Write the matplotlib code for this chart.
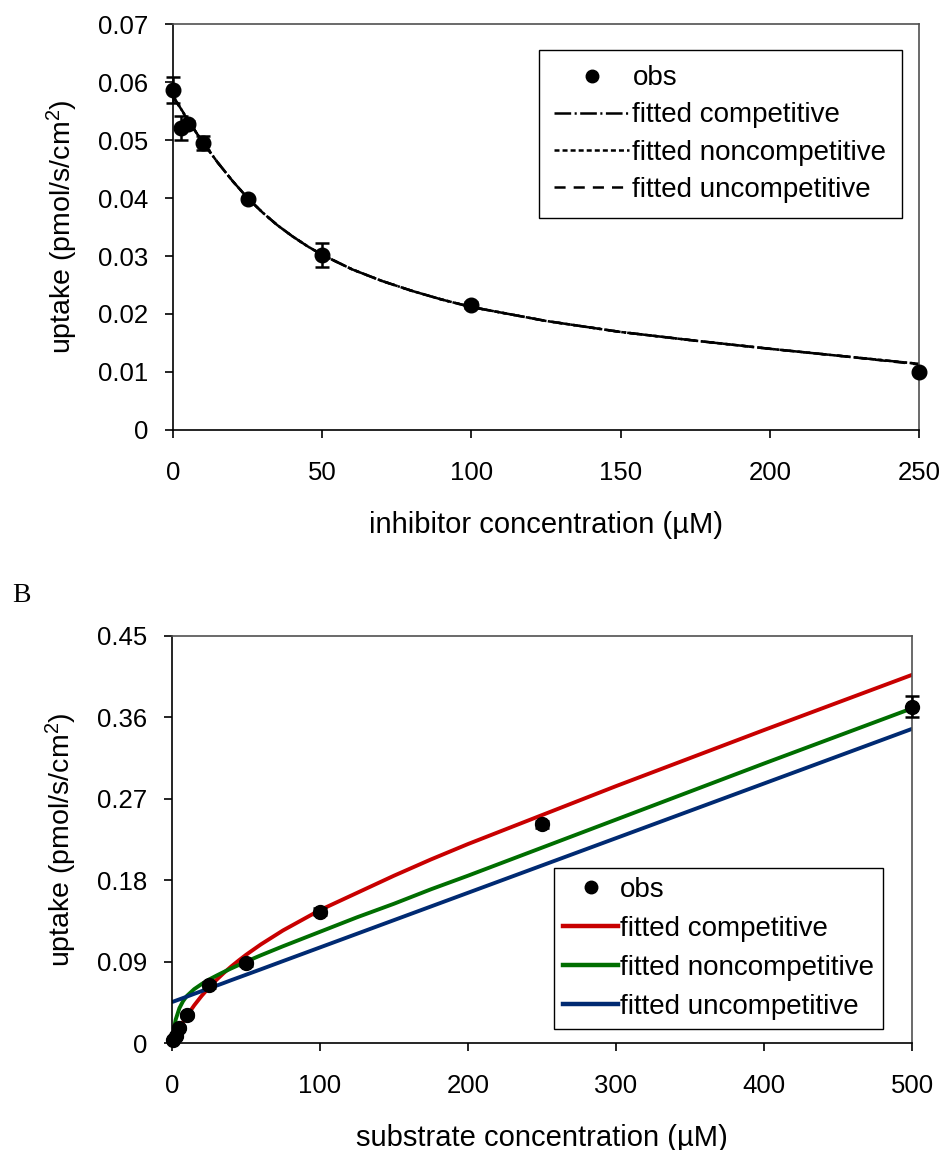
import matplotlib
matplotlib.use('Agg')
import matplotlib.pyplot as plt
from matplotlib.lines import Line2D

plt.rcParams['font.family'] = ['Liberation Sans', 'DejaVu Sans']
plt.rcParams['mathtext.default'] = 'regular'
plt.rcParams['lines.scale_dashes'] = False

# panel A: inhibition
inhib_conc = [0, 2.5, 5, 10, 25, 50, 100, 250]
inhib_uptake = [0.0586, 0.0521, 0.0528, 0.0495, 0.0398, 0.0302, 0.0216, 0.0100]
inhib_err = [0.0022, 0.0021, 0.0005, 0.0012, 0.0004, 0.0021, 0.0005, 0.0004]

fit_x_a = [0, 2.5, 5, 7.5, 10, 15, 20, 25, 30, 35, 40, 45, 50, 60, 70, 80, 90, 100,
           125, 150, 175, 200, 225, 250]
fit_comp_a = [0.0576, 0.0555, 0.0535, 0.0515, 0.0496, 0.0461, 0.0429, 0.0400, 0.0375, 0.0353,
              0.0334, 0.0317, 0.0302, 0.0277, 0.0257, 0.0240, 0.0225, 0.0212,
              0.0188, 0.0169, 0.0154, 0.0140, 0.0127, 0.0114]
fit_noncomp_a = [0.0577, 0.0555, 0.0535, 0.0515, 0.0496, 0.0461, 0.0429, 0.0400, 0.0375, 0.0353,
                 0.0334, 0.0317, 0.0302, 0.0277, 0.0257, 0.0240, 0.0225, 0.0212,
                 0.0188, 0.0169, 0.0154, 0.0140, 0.0127, 0.0114]
fit_uncomp_a = [0.0575, 0.0554, 0.0534, 0.0515, 0.0496, 0.0461, 0.0429, 0.0400, 0.0375, 0.0353,
                0.0334, 0.0317, 0.0302, 0.0277, 0.0257, 0.0240, 0.0225, 0.0212,
                0.0188, 0.0169, 0.0154, 0.0140, 0.0127, 0.0113]

# panel B: substrate
sub_conc = [1, 2.5, 5, 10, 25, 50, 100, 250, 500]
sub_uptake = [0.003, 0.008, 0.017, 0.031, 0.064, 0.088, 0.145, 0.242, 0.372]
sub_err = [0.001, 0.001, 0.002, 0.002, 0.003, 0.003, 0.004, 0.004, 0.012]

fit_x_b = [0.5, 1, 2.5, 5, 7.5, 10, 15, 20, 25, 30, 35, 40, 45, 50, 60, 75, 100, 125, 150,
           175, 200, 250, 300, 400, 500]
fit_comp_b = [0.0018, 0.0035, 0.0085, 0.0162, 0.0233, 0.0299, 0.0417, 0.0521, 0.0614, 0.0698,
              0.0775, 0.0846, 0.0912, 0.0975, 0.109, 0.1245, 0.147, 0.166, 0.185,
              0.203, 0.220, 0.252, 0.284, 0.346, 0.407]
fit_noncomp_b = [0.0074, 0.0134, 0.026, 0.0386, 0.0464, 0.052, 0.0596, 0.0652, 0.0702, 0.0745,
                 0.0786, 0.0825, 0.0862, 0.090, 0.097, 0.107, 0.123, 0.139, 0.154,
                 0.170, 0.185, 0.216, 0.247, 0.309, 0.370]
fit_uncomp_b = [0.0456, 0.0459, 0.0468, 0.0483, 0.0498, 0.0513, 0.0544, 0.0574, 0.0604, 0.0634,
                0.0664, 0.0695, 0.0725, 0.0755, 0.0815, 0.0906, 0.1057, 0.1208, 0.1359,
                0.1510, 0.1661, 0.1963, 0.2265, 0.2869, 0.3473]

labels = ['obs', 'fitted competitive', 'fitted noncompetitive', 'fitted uncompetitive']
ylabel = 'uptake (pmol/s/cm$^2$)'

fig = plt.figure(figsize=(9.42, 11.5), dpi=100)
ax1 = fig.add_axes([0.1837, 0.6261, 0.7919, 0.3530])
ax2 = fig.add_axes([0.1826, 0.0930, 0.7856, 0.3540])


def style_axes(ax):
    for s in ax.spines.values():
        s.set_color('black')
        s.set_linewidth(1.2)
    ax.spines['top'].set_color('#505050')
    ax.spines['right'].set_color('#505050')
    ax.tick_params(direction='out', length=6, width=1.2, labelsize=18.5,
                   top=False, right=False)
    ax.tick_params(axis='x', pad=16)
    ax.tick_params(axis='y', pad=12)


# --- A ---
style_axes(ax1)
ax1.plot(fit_x_a, fit_comp_a, color='black', lw=1.8, dashes=(12, 2.5, 1.5, 2.5))
ax1.plot(fit_x_a, fit_noncomp_a, color='black', lw=1.8, dashes=(3.6, 2.2))
ax1.plot(fit_x_a, fit_uncomp_a, color='black', lw=1.8, dashes=(8, 5.8))
ax1.errorbar(inhib_conc, inhib_uptake, yerr=inhib_err, fmt='o', color='black',
             ms=10.5, elinewidth=1.8, capsize=5, capthick=1.8, clip_on=False, zorder=5)
ax1.set_xlim(0, 250)
ax1.set_ylim(0, 0.07)
ax1.set_xticks([0, 50, 100, 150, 200, 250])
ax1.set_yticks([0, 0.01, 0.02, 0.03, 0.04, 0.05, 0.06, 0.07])
ax1.set_yticklabels(['0', '0.01', '0.02', '0.03', '0.04', '0.05', '0.06', '0.07'])
ax1.set_xlabel('inhibitor concentration (µM)', fontsize=21, labelpad=19)
ax1.set_ylabel(ylabel, fontsize=20.5, labelpad=13)

handles_a = [
    Line2D([], [], marker='o', ls='none', color='black', ms=9),
    Line2D([], [], color='black', lw=1.8, dashes=(12, 2.5, 1.5, 2.5)),
    Line2D([], [], color='black', lw=1.8, dashes=(3.6, 2.2)),
    Line2D([], [], color='black', lw=1.8, dashes=(8, 5.8)),
]
leg1 = ax1.legend(handles_a, labels, loc='upper left', bbox_to_anchor=(0.572, 0.9565),
                  bbox_transform=fig.transFigure, fontsize=20, frameon=True, fancybox=False,
                  framealpha=1, edgecolor='black', handlelength=2.7, handletextpad=0.12,
                  labelspacing=0.4, borderpad=0.55, borderaxespad=0)
leg1.get_frame().set_linewidth(1.0)

# --- B ---
style_axes(ax2)
ax2.plot(fit_x_b, fit_comp_b, color='#C80000', lw=2.8, solid_capstyle='round')
ax2.plot(fit_x_b, fit_noncomp_b, color='#006E00', lw=2.8, solid_capstyle='round')
ax2.plot(fit_x_b, fit_uncomp_b, color='#002A72', lw=2.8, solid_capstyle='round')
ax2.errorbar(sub_conc, sub_uptake, yerr=sub_err, fmt='o', color='black',
             ms=10, elinewidth=1.8, capsize=5, capthick=1.8, clip_on=False, zorder=5)
ax2.set_xlim(0, 500)
ax2.set_ylim(0, 0.45)
ax2.set_xticks([0, 100, 200, 300, 400, 500])
ax2.set_yticks([0, 0.09, 0.18, 0.27, 0.36, 0.45])
ax2.set_yticklabels(['0', '0.09', '0.18', '0.27', '0.36', '0.45'])
ax2.set_xlabel('substrate concentration (µM)', fontsize=21, labelpad=19)
ax2.set_ylabel(ylabel, fontsize=20.5, labelpad=13)

handles_b = [
    Line2D([], [], marker='o', ls='none', color='black', ms=9),
    Line2D([], [], color='#C80000', lw=3.2),
    Line2D([], [], color='#006E00', lw=3.2),
    Line2D([], [], color='#002A72', lw=3.2),
]
leg2 = ax2.legend(handles_b, labels, loc='upper left', bbox_to_anchor=(0.588, 0.2452),
                  bbox_transform=fig.transFigure, fontsize=20, frameon=True, fancybox=False,
                  framealpha=1, edgecolor='black', handlelength=2.0, handletextpad=0.05,
                  labelspacing=0.47, borderpad=0.32, borderaxespad=0)
leg2.get_frame().set_linewidth(1.0)

fig.text(0.013, 1 - 602 / 1150, 'B', fontsize=20, family=['Liberation Serif', 'DejaVu Serif'])

fig.savefig('out.png', dpi=100)
